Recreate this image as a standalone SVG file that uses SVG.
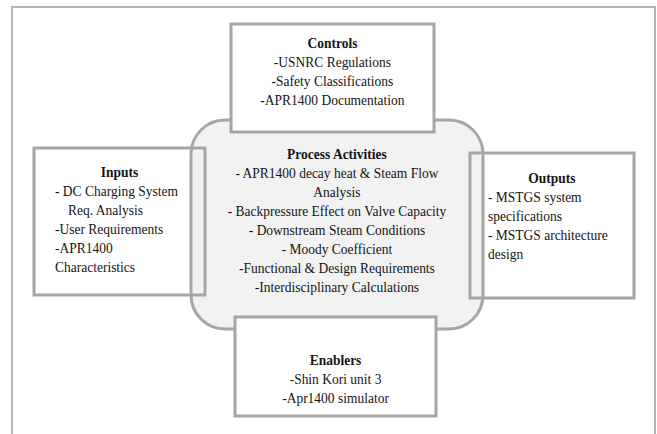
<svg xmlns="http://www.w3.org/2000/svg" width="657" height="434" viewBox="0 0 657 434">
  <style>
    .frame { fill: none; stroke: #b4b4b4; stroke-width: 2; }
    .box { fill: none; stroke: #a6a6a6; stroke-width: 3; }
    .solid { fill: #ffffff; }
    .proc { fill: #f2f2f2; stroke: #a6a6a6; stroke-width: 3; }
    text { font-family: "Liberation Serif", "Times New Roman", serif; font-size: 15px; fill: #141414; }
    .title { font-weight: bold; }
    .mid { text-anchor: middle; }
  </style>

  <!-- outer frame, open at the bottom -->
  <path class="frame" d="M12,434 V7 H655 V434"/>

  <!-- central process block; labels use a narrowed serif (x scaled by 0.9) -->
  <g id="process">
    <rect class="proc" x="191" y="120" width="292" height="209" rx="34" ry="34"/>
    <g transform="scale(0.9 1)">
      <text class="mid title" x="374.4" y="159">Process Activities</text>
      <text class="mid" x="374.4" y="178">- APR1400 decay heat &amp; Steam Flow</text>
      <text class="mid" x="374.4" y="197">Analysis</text>
      <text class="mid" x="374.4" y="216">- Backpressure Effect on Valve Capacity</text>
      <text class="mid" x="374.4" y="235">- Downstream Steam Conditions</text>
      <text class="mid" x="374.4" y="254">- Moody Coefficient</text>
      <text class="mid" x="374.4" y="273">-Functional &amp; Design Requirements</text>
      <text class="mid" x="374.4" y="292">-Interdisciplinary Calculations</text>
    </g>
  </g>

  <g id="inputs">
    <rect class="box" x="34" y="148" width="171" height="147"/>
    <g transform="scale(0.9 1)">
      <text class="mid title" x="132.8" y="177">Inputs</text>
      <text x="61.1" y="196">- DC Charging System</text>
      <text x="75.6" y="215">Req. Analysis</text>
      <text x="61.1" y="234">-User Requirements</text>
      <text x="61.1" y="253">-APR1400</text>
      <text x="61.1" y="272">Characteristics</text>
    </g>
  </g>

  <g id="outputs">
    <rect class="box" x="470" y="153" width="164" height="145"/>
    <g transform="scale(0.9 1)">
      <text class="mid title" x="613.3" y="183">Outputs</text>
      <text x="542.2" y="202">- MSTGS system</text>
      <text x="542.2" y="221">specifications</text>
      <text x="542.2" y="240">- MSTGS architecture</text>
      <text x="542.2" y="259">design</text>
    </g>
  </g>

  <g id="controls">
    <rect class="box solid" x="231" y="24" width="203" height="108"/>
    <g transform="scale(0.9 1)">
      <text class="mid title" x="369.4" y="48">Controls</text>
      <text class="mid" x="369.4" y="67">-USNRC Regulations</text>
      <text class="mid" x="369.4" y="86">-Safety Classifications</text>
      <text class="mid" x="369.4" y="105">-APR1400 Documentation</text>
    </g>
  </g>

  <g id="enablers">
    <rect class="box solid" x="235" y="317" width="201" height="99"/>
    <g transform="scale(0.9 1)">
      <text class="mid title" x="372.8" y="365">Enablers</text>
      <text class="mid" x="372.8" y="384">-Shin Kori unit 3</text>
      <text class="mid" x="372.8" y="403">-Apr1400 simulator</text>
    </g>
  </g>
</svg>
